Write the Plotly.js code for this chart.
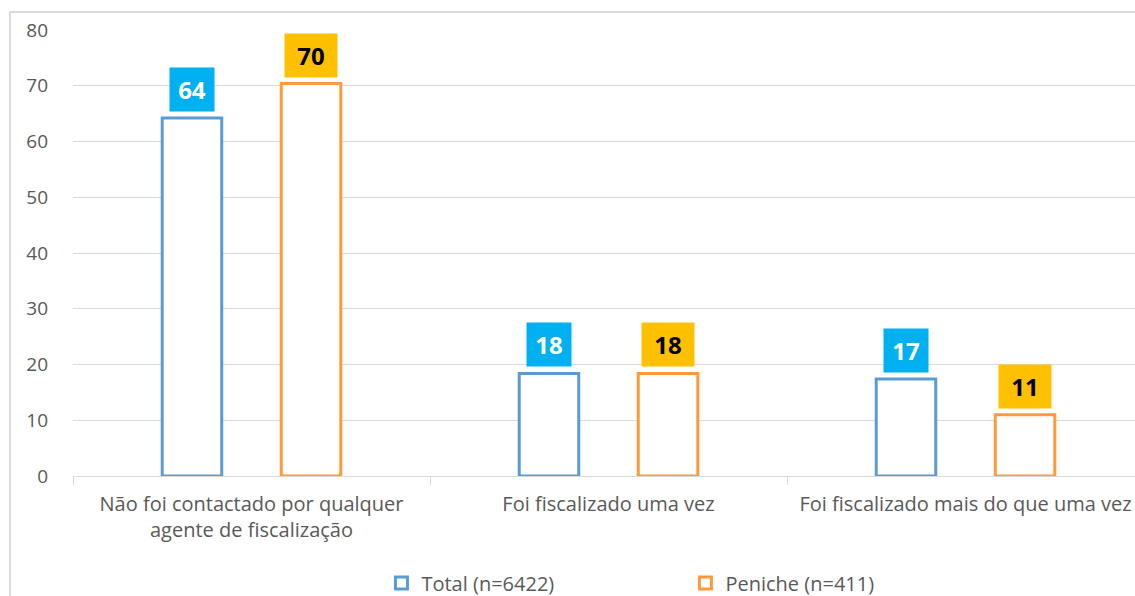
<!DOCTYPE html>
<html>
<head>
<meta charset="utf-8">
<script src="https://cdn.plot.ly/plotly-3.0.1.min.js"></script>
<style>
html,body{margin:0;padding:0;overflow:hidden;background:#fff;width:1135px;height:596px;}
#frame{position:absolute;left:9px;top:11px;width:1300px;height:700px;border:2px solid #d9d9d9;box-sizing:border-box;}
#chart{position:absolute;left:0;top:0;width:1160px;height:620px;}
</style>
</head>
<body>
<div id="frame"></div>
<div id="chart"></div>
<script>
const categories = ["Não foi contactado por qualquer<br>agente de fiscalização", "Foi fiscalizado uma vez", "Foi fiscalizado mais do que uma vez"];
const seriesNames = ["Total (n=6422)", "Peniche (n=411)"];
const totalValues = [64.2, 18.4, 17.4];
const penicheValues = [70.4, 18.4, 11.0];
const yTicks = [0, 10, 20, 30, 40, 50, 60, 70, 80];

const lineColors = ["#5B9BD5", "#FF9A3C"];
const labelBg = ["#00B0F0", "#FFC000"];
const labelFg = ["#FFFFFF", "#000000"];
const labelBoxWidth = [30, 38];
const allValues = [totalValues, penicheValues];

const bargap = 0.333;
const traces = allValues.map((vals, i) => ({
  type: "bar",
  name: seriesNames[i],
  x: categories,
  y: vals,
  marker: {color: "#FFFFFF", line: {color: lineColors[i], width: 3}},
  hoverinfo: "none"
}));

const slot = (1 - bargap) / 2;
const annotations = [];
allValues.forEach((vals, i) => {
  vals.forEach((v, j) => {
    annotations.push({
      x: j + (i === 0 ? -slot / 2 : slot / 2),
      y: v,
      xref: "x", yref: "y",
      text: "<b>" + Math.round(v) + "</b>",
      showarrow: false,
      yanchor: "bottom",
      yshift: 6,
      width: labelBoxWidth[i],
      height: 29,
      bgcolor: labelBg[i],
      borderpad: 7,
      font: {family: "Open Sans, sans-serif", size: 24, color: labelFg[i]}
    });
  });
});

const layout = {
  width: 1160, height: 620,
  margin: {l: 73, r: 16, t: 30, b: 144},
  paper_bgcolor: "rgba(0,0,0,0)",
  plot_bgcolor: "#FFFFFF",
  barmode: "group",
  bargap: bargap,
  bargroupgap: 0.5,
  showlegend: true,
  legend: {
    orientation: "h", x: 0.288, xanchor: "left", y: -0.24, yanchor: "middle",
    font: {family: "Open Sans, sans-serif", size: 20, color: "#595959"},
    entrywidth: 259, entrywidthmode: "pixels",
    itemwidth: 30, traceorder: "normal"
  },
  font: {family: "Open Sans, sans-serif", color: "#595959"},
  xaxis: {
    type: "category",
    range: [-0.5, 2.5],
    showline: true, linecolor: "#D9D9D9", linewidth: 1,
    ticks: "outside", tickson: "boundaries", ticklen: 8, tickcolor: "#D9D9D9",
    ticklabelstandoff: 10,
    tickfont: {family: "Open Sans, sans-serif", size: 20, color: "#595959"},
    showgrid: false
  },
  yaxis: {
    range: [0, 80],
    tickvals: yTicks,
    ticktext: yTicks.map(String),
    showgrid: true, gridcolor: "#D9D9D9", gridwidth: 1,
    zeroline: false, showline: false,
    ticklabelstandoff: 24,
    tickfont: {family: "Open Sans, sans-serif", size: 19, color: "#595959"}
  },
  annotations: annotations
};

Plotly.newPlot("chart", traces, layout, {displayModeBar: false, staticPlot: true});
</script>
</body>
</html>
